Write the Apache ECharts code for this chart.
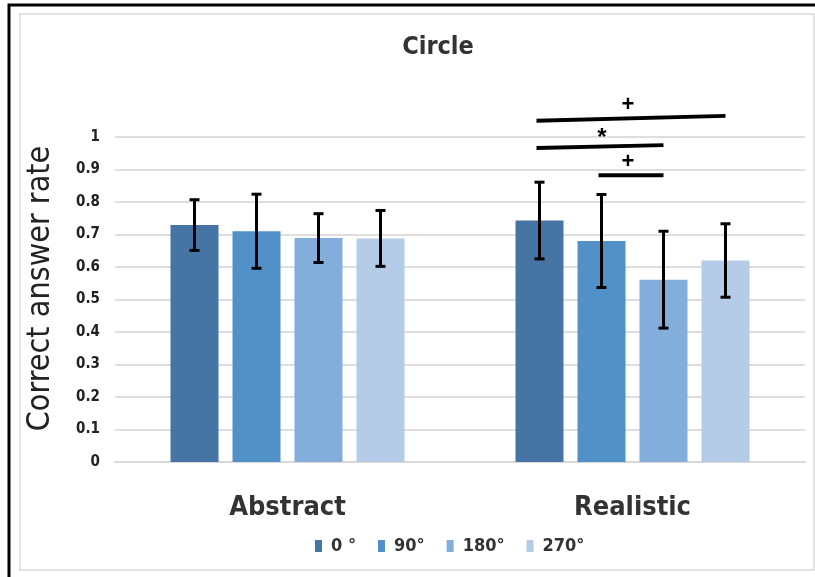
<!DOCTYPE html>
<html>
<head>
<meta charset="utf-8">
<script src="https://cdn.jsdelivr.net/npm/echarts@6/dist/echarts.min.js"></script>
<style>
html,body{margin:0;padding:0;background:#fff;}
#chart{width:815px;height:577px;}
</style>
</head>
<body>
<div id="chart"></div>
<script>
// ---- data ----
const categories = ['Abstract', 'Realistic'];
const seriesNames = ['0 °', '90°', '180°', '270°'];
const deg0 = [0.729, 0.743];
const deg90 = [0.710, 0.680];
const deg180 = [0.689, 0.561];
const deg270 = [0.688, 0.620];
const err0 = [0.078, 0.118];
const err90 = [0.114, 0.143];
const err180 = [0.075, 0.149];
const err270 = [0.086, 0.113];
const yTicks = ['0', '0.1', '0.2', '0.3', '0.4', '0.5', '0.6', '0.7', '0.8', '0.9', '1'];
// significance brackets: category, from series, to series, y at left, y at right
const sigCategory = [1, 1, 1];
const sigFrom = [0, 0, 1];
const sigTo = [3, 2, 2];
const sigYLeft = [1.050, 0.966, 0.882];
const sigYRight = [1.065, 0.975, 0.882];
const sigLabels = ['+', '*', '+'];

// ---- style ----
const FONT = '"DejaVu Sans Condensed", "Liberation Sans", sans-serif';
const colors = ['#4674a5', '#5290c8', '#83aedc', '#b5cce8'];
const BAR_W = 48;
const GAP_RATIO = 14 / 48;

const means = [deg0, deg90, deg180, deg270];
const errs = [err0, err90, err180, err270];

function barOffset(k) {
  const n = seriesNames.length;
  const step = BAR_W * (1 + GAP_RATIO);
  return (k - (n - 1) / 2) * step;
}

const barSeries = seriesNames.map((name, k) => ({
  name: name,
  type: 'bar',
  data: means[k],
  barWidth: BAR_W,
  barGap: (GAP_RATIO * 100) + '%',
  itemStyle: { color: colors[k] },
  z: 2
}));

const errData = [];
for (let k = 0; k < seriesNames.length; k++) {
  for (let c = 0; c < categories.length; c++) {
    errData.push([c, k, means[k][c] - errs[k][c], means[k][c] + errs[k][c]]);
  }
}

const errSeries = {
  type: 'custom',
  name: 'err',
  data: errData,
  z: 5,
  silent: true,
  encode: { x: 0, y: [2, 3] },
  renderItem: function (params, api) {
    const c = api.value(0), k = api.value(1);
    const lo = api.coord([c, api.value(2)]);
    const hi = api.coord([c, api.value(3)]);
    const x = lo[0] + barOffset(k);
    const cap = 5;
    const st = { stroke: '#000', lineWidth: 3 };
    return {
      type: 'group',
      children: [
        { type: 'line', shape: { x1: x, y1: hi[1], x2: x, y2: lo[1] }, style: st },
        { type: 'line', shape: { x1: x - cap, y1: hi[1], x2: x + cap, y2: hi[1] }, style: st },
        { type: 'line', shape: { x1: x - cap, y1: lo[1], x2: x + cap, y2: lo[1] }, style: st }
      ]
    };
  }
};

const sigData = sigCategory.map((c, i) => [c, sigFrom[i], sigTo[i], sigYLeft[i], sigYRight[i]]);
const sigSeries = {
  type: 'custom',
  name: 'sig',
  data: sigData,
  z: 6,
  silent: true,
  clip: false,
  encode: { x: 0, y: [3, 4] },
  renderItem: function (params, api) {
    const c = api.value(0);
    const p1 = api.coord([c, api.value(3)]);
    const p2 = api.coord([c, api.value(4)]);
    const x1 = p1[0] + barOffset(api.value(1)) - 3;
    const x2 = p2[0] + barOffset(api.value(2));
    const xm = (x1 + x2) / 2;
    const ym = (p1[1] + p2[1]) / 2;
    const label = sigLabels[params.dataIndex];
    const isStar = label === '*';
    return {
      type: 'group',
      children: [
        { type: 'line', shape: { x1: x1, y1: p1[1], x2: x2, y2: p2[1] }, style: { stroke: '#000', lineWidth: 4 } },
        { type: 'text', style: { text: label, x: xm + (isStar ? 2 : -3), y: ym + (isStar ? 4 : -2), align: 'center', verticalAlign: 'bottom',
          font: 'bold ' + (isStar ? 24 : 22) + 'px "Liberation Sans", sans-serif', fill: '#000' } }
      ]
    };
  }
};

const chart = echarts.init(document.getElementById('chart'));
chart.setOption({
  backgroundColor: '#fff',
  animation: false,
  color: colors,
  title: {
    text: 'Circle',
    left: 433, top: 30,
    textAlign: 'center',
    textStyle: { fontFamily: FONT, fontSize: 25, fontWeight: 'bold', color: '#333' }
  },
  legend: {
    data: seriesNames,
    left: 310, top: 532,
    itemWidth: 7, itemHeight: 12, itemGap: 22,
    icon: 'rect',
    textStyle: { fontFamily: FONT, fontSize: 18, fontWeight: 'bold', color: '#333', padding: [0, 0, 0, 4] }
  },
  grid: { left: 115, right: 10, top: 137, bottom: 115 },
  xAxis: {
    type: 'category',
    data: categories,
    axisLine: { show: true, lineStyle: { color: '#d9d9d9', width: 2 } },
    axisTick: { show: false },
    axisLabel: { fontFamily: FONT, fontSize: 27, fontWeight: 'bold', color: '#333', margin: 32 }
  },
  yAxis: {
    type: 'value',
    min: 0, max: 1, interval: 0.1,
    name: 'Correct answer rate',
    nameLocation: 'middle',
    nameGap: 58,
    nameTextStyle: { fontFamily: FONT, fontSize: 32, color: '#222', padding: [0, 0, 0, 22] },
    axisLine: { show: false },
    axisTick: { show: false },
    splitLine: { lineStyle: { color: '#dedede', width: 2 } },
    axisLabel: {
      margin: 15,
      fontFamily: FONT, fontSize: 15, fontWeight: 'bold', color: '#222',
      formatter: function (v) { return yTicks[Math.round(v * 10)]; }
    }
  },
  graphic: [
    { type: 'rect', shape: { x: 9, y: 5, width: 830, height: 600 }, style: { fill: 'none', stroke: '#000', lineWidth: 3 }, silent: true },
    { type: 'rect', shape: { x: 20, y: 14, width: 794, height: 556 }, style: { fill: 'none', stroke: '#e3e3e3', lineWidth: 2 }, silent: true }
  ],
  series: barSeries.concat([errSeries, sigSeries])
});
</script>
</body>
</html>
